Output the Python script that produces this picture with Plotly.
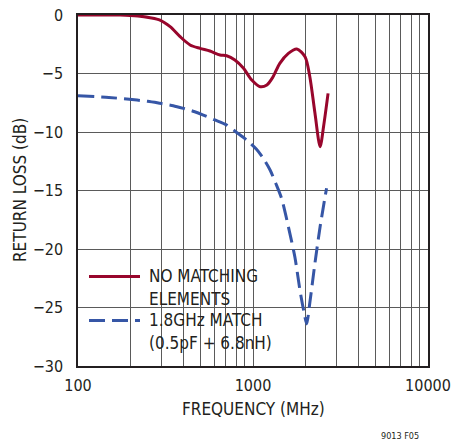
import plotly.graph_objects as go

# ---- data ----
red_freq = [100, 174, 220, 258, 294, 336, 383, 437, 498, 567, 648, 707, 788, 883, 984, 1100,
            1200, 1300, 1423, 1593, 1779, 1983, 2112, 2260, 2418, 2532, 2685]
red_db = [0, 0, -0.08, -0.23, -0.43, -1.0, -1.85, -2.56, -2.85, -3.08, -3.42, -3.48, -3.85,
          -4.56, -5.56, -6.13, -5.98, -5.3, -4.13, -3.28, -2.9, -3.56, -5.27, -8.4, -11.25,
          -9.5, -6.7]

blue_freq = [100, 150, 190, 250, 294, 350, 400, 460, 520, 600, 707, 800, 922, 1050, 1150, 1252,
             1350, 1458, 1593, 1736, 1854, 1950, 2027, 2112, 2260, 2418, 2632]
blue_db = [-6.9, -7.05, -7.18, -7.38, -7.55, -7.75, -7.98, -8.25, -8.55, -8.95, -9.4, -10.0,
           -10.7, -11.5, -12.3, -13.25, -14.4, -15.7, -18.1, -20.7, -23.5, -25.3, -26.4, -24.6,
           -21.2, -18.1, -14.8]

x_gridvals = [100, 200, 300, 400, 500, 600, 700, 800, 900, 1000, 2000, 3000, 4000, 5000,
              6000, 7000, 8000, 9000, 10000]
x_ticktext = ["100", "", "", "", "", "", "", "", "", "1000", "", "", "", "", "", "", "", "", "10000"]
y_ticks = [0, -5, -10, -15, -20, -25, -30]

series_names = [["NO MATCHING", "ELEMENTS"], ["1.8GHz MATCH", "(0.5pF + 6.8nH)"]]
x_title = "FREQUENCY (MHz)"
y_title = "RETURN LOSS (dB)"
fig_code = "9013 F05"

RED = "#98062c"
BLUE = "#3656a6"
GRID = "#5a5a5a"
TXT = "#231f20"
FONT = "DejaVu Sans Condensed, Liberation Sans Narrow, sans-serif"

W, H = 455, 443
L, R, T, B = 78, 27, 15, 77
PW, PH = W - L - R, H - T - B


def px_x(px):
    return (px - L) / PW


def px_y(py):
    return (H - B - py) / PH


fig = go.Figure()
fig.add_trace(go.Scatter(x=red_freq, y=red_db, mode="lines",
                         line=dict(color=RED, width=3, shape="spline", smoothing=0.8),
                         name=" ".join(series_names[0]), showlegend=False))
fig.add_trace(go.Scatter(x=blue_freq, y=blue_db, mode="lines",
                         line=dict(color=BLUE, width=3, dash="16px,7px", shape="spline", smoothing=0.7),
                         name=" ".join(series_names[1]), showlegend=False))

shapes = [
    dict(type="rect", xref="paper", yref="paper", x0=px_x(79), x1=px_x(275), y0=0.002, y1=px_y(257),
         fillcolor="white", line=dict(width=0), layer="between"),
    dict(type="line", xref="paper", yref="paper", x0=px_x(89), x1=px_x(140), y0=px_y(276.5), y1=px_y(276.5),
         line=dict(color=RED, width=3)),
    dict(type="line", xref="paper", yref="paper", x0=px_x(89), x1=px_x(140), y0=px_y(320.5), y1=px_y(320.5),
         line=dict(color=BLUE, width=3, dash="16px,7px")),
]

annotations = []
line_y = [[275.5, 298.5], [320, 343]]
for names, ys in zip(series_names, line_y):
    for txt, yy in zip(names, ys):
        annotations.append(dict(text=txt, xref="paper", yref="paper", x=px_x(147), y=px_y(yy),
                                xanchor="left", yanchor="middle", showarrow=False,
                                font=dict(family=FONT, size=17, color=TXT)))
annotations.append(dict(text=fig_code, xref="paper", yref="paper", x=px_x(421), y=px_y(436),
                        xanchor="right", yanchor="middle", showarrow=False,
                        font=dict(family=FONT, size=9, color=TXT)))
annotations.append(dict(text=x_title, xref="paper", yref="paper", x=px_x(253), y=px_y(409),
                        xanchor="center", yanchor="middle", showarrow=False,
                        font=dict(family=FONT, size=17, color=TXT)))
annotations.append(dict(text=y_title, xref="paper", yref="paper", x=px_x(20), y=px_y(190),
                        xanchor="center", yanchor="middle", showarrow=False, textangle=-90,
                        font=dict(family=FONT, size=17, color=TXT)))

fig.update_layout(
    template="none",
    width=W, height=H, autosize=False,
    margin=dict(l=L, r=R, t=T, b=B, pad=0),
    paper_bgcolor="white", plot_bgcolor="white",
    font=dict(family=FONT, size=16, color=TXT),
    shapes=shapes, annotations=annotations,
    xaxis=dict(type="log", range=[2, 4], tickmode="array", tickvals=x_gridvals, ticktext=x_ticktext,
               automargin=False,
               showgrid=True, gridcolor=GRID, gridwidth=1.3,
               showline=True, linecolor="#231f20", linewidth=1.5, mirror=True,
               ticks="inside", ticklen=6, tickcolor=GRID, tickwidth=1.3,
               tickfont=dict(size=16), zeroline=False, ticklabelstandoff=4),
    yaxis=dict(range=[-30, 0], tickmode="array", tickvals=y_ticks,
               automargin=False,
               showgrid=True, gridcolor=GRID, gridwidth=1.3,
               showline=True, linecolor="#231f20", linewidth=1.5, mirror=True,
               ticks="inside", ticklen=5, tickcolor=GRID, tickwidth=1.3,
               tickfont=dict(size=16), zeroline=False, ticklabelstandoff=10),
)

fig.write_html("out.html", config={"displayModeBar": False},
               post_script="document.body.style.margin='0';document.body.style.padding='0';"
                           "document.body.style.overflow='hidden';")
